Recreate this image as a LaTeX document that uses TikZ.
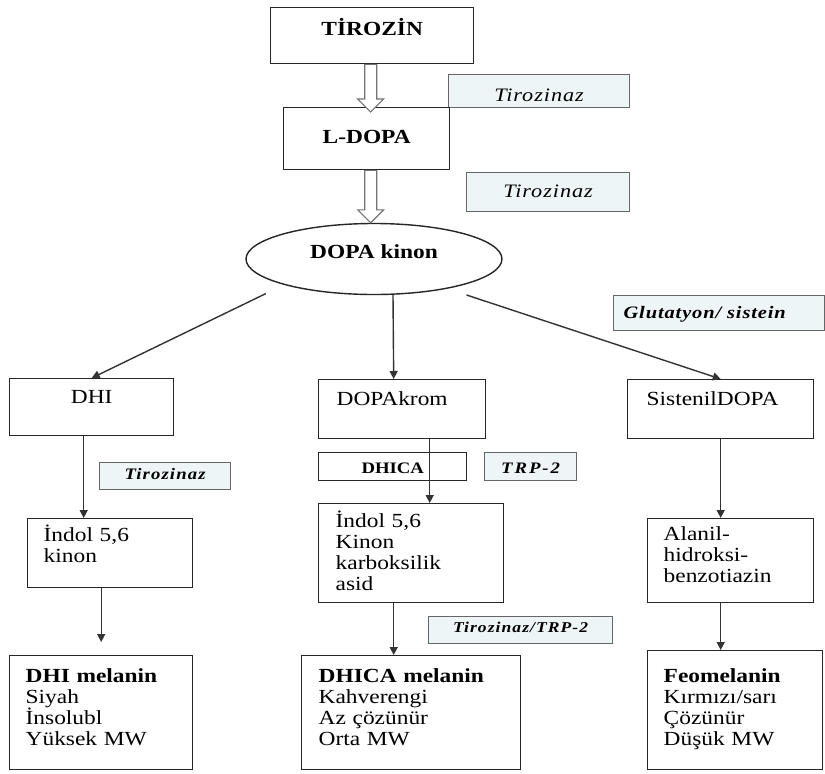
\documentclass[tikz,border=0pt]{standalone}
\usepackage{fontspec}
\setmainfont{Liberation Serif}[FakeStretch=1.17]
\newfontfamily\tagfont{Liberation Serif}[FakeStretch=1.17,LetterSpace=5]
\usetikzlibrary{shapes.geometric}
\usetikzlibrary{arrows.meta}
\usetikzlibrary{calc}
\definecolor{tagfill}{HTML}{EEF5F7}
\newcommand{\bodysize}{\fontsize{20}{21}\selectfont}
\tikzset{
    every node/.style={
        inner sep=0pt,
        anchor=north west},
    box/.style={
        draw=black!85,
        line width=1.4pt,
        align=left,
        font=\bodysize},
    tag/.style={
        draw=black!60,
        fill=tagfill,
        line width=1.1pt,
        align=center,
        font=\tagfont\fontsize{19}{21}\selectfont\itshape},
    boldtag/.style={
        tag,
        font=\tagfont\fontsize{15}{17}\selectfont\bfseries\itshape},
    flow/.style={
        draw=black!80,
        line width=1.4pt,
        -{Triangle[length=8pt,width=8pt]}},
    hollow/.style={
        draw=black!55,
        fill=white,
        line width=1.1pt,
        to path={let \p1=(\tikztostart), \p2=(\tikztotarget) in
            (\x1-6pt,\y1) -- (\x1-6pt,\y2+13pt) -- (\x1-13pt,\y2+13pt)
            -- (\x1,\y2) -- (\x1+13pt,\y2+13pt) -- (\x1+6pt,\y2+13pt)
            -- (\x1+6pt,\y1) -- cycle}}}

\begin{document}
\begin{tikzpicture}[x=1pt,y=-1pt]
    \fill[white] (0,0) rectangle (825,774);
    \useasboundingbox (0,0) rectangle (825,774);

    % ana yol
    \node[box, text width=203pt, align=center, text height=28pt, text depth=28pt] (tir) at (270,7) {\bfseries TİROZİN};
    \node[tag, text width=181pt, text height=27pt, text depth=6pt] (enz1) at (448,74) {Tirozinaz};
    \node[box, text width=166pt, align=center, text height=36pt, text depth=26pt] (ldopa) at (283,107) {\bfseries L-DOPA};
    \node[tag, text width=163pt, text height=25pt, text depth=14pt] (enz2) at (466,172) {Tirozinaz};
    \node[box, ellipse, anchor=center, minimum width=256pt, minimum height=71pt, text height=14pt, text depth=16pt] (kinon) at (374,259) {\bfseries DOPA kinon};
    \node[boldtag, font=\tagfont\fontsize{17.5}{19}\selectfont\bfseries\itshape, align=left, inner xsep=10pt, text width=191pt, text height=23pt, text depth=12pt] (glut) at (613,295) {Glutatyon/ sistein};

    % ara urunler
    \node[box, text width=164pt, align=center, text height=25pt, text depth=32pt] (dhi) at (9,378) {DHI};
    \node[box, inner xsep=18pt, text width=131pt, text height=26pt, text depth=33pt] (dopakrom) at (318,379) {DOPAkrom};
    \node[box, inner xsep=19pt, text width=148pt, text height=26pt, text depth=33pt] (sistenil) at (627,379) {SistenilDOPA};
    \node[box, align=center, fill=white, font=\fontsize{16}{18}\selectfont\bfseries, text width=148pt, text height=21pt, text depth=7pt] (dhica) at (318,452) {DHICA};
    \node[boldtag, font=\tagfont\fontsize{16}{18}\selectfont\addfontfeature{LetterSpace=12}\bfseries\itshape, text width=92pt, text height=21pt, text depth=7pt] (trp) at (484,452) {TRP-2};
    \node[boldtag, font=\tagfont\fontsize{16}{18}\selectfont\addfontfeature{LetterSpace=7}\bfseries\itshape, text width=131pt, text height=17pt, text depth=10pt] (enz3) at (99,462) {Tirozinaz};

    \node[box, inner xsep=16pt, text width=133pt, text height=23pt, text depth=46pt] (indol1) at (27,518) {İndol 5,6\\kinon};
    \node[box, inner xsep=17pt, text width=151pt, text height=24pt, text depth=75pt] (indol2) at (318,503) {İndol 5,6\\Kinon\\karboksilik\\asid};
    \node[box, inner xsep=16pt, text width=134pt, text height=22pt, text depth=62pt] (alanil) at (647,518) {Alanil-\\hidroksi-\\benzotiazin};
    \node[boldtag, font=\tagfont\fontsize{15}{17}\selectfont\addfontfeature{LetterSpace=7}\bfseries\itshape, text width=184pt, text height=16pt, text depth=11pt] (enz4) at (428,616) {Tirozinaz/TRP-2};

    % melaninler
    \node[box, inner xsep=16pt, text width=151pt, text height=27pt, text depth=87pt] (dhimel) at (9,655) {\textbf{DHI melanin}\\Siyah\\İnsolubl\\Yüksek MW};
    \node[box, inner xsep=17pt, text width=185pt, text height=27pt, text depth=87pt] (dhicamel) at (301,655) {\textbf{DHICA melanin}\\Kahverengi\\Az çözünür\\Orta MW};
    \node[box, inner xsep=16pt, text width=143pt, text height=32pt, text depth=87pt] (feo) at (647,650) {\textbf{Feomelanin}\\Kırmızı/sarı\\Çözünür\\Düşük MW};

    % oklar
    \draw[hollow] ([xshift=-1.5pt]tir.south) to ([yshift=-5pt]ldopa.north);
    \draw[hollow] ([xshift=4pt]ldopa.south) to (kinon.north);

    \draw[flow, shorten <=20pt] (kinon.196) -- (dhi.north);
    \draw[flow] ([xshift=19pt]kinon.south) -- ([xshift=-8.5pt]dopakrom.north);
    \draw[flow, shorten <=20pt] (kinon.338) -- (sistenil.north);

    \draw[flow] ([xshift=-8pt]dhi.south) -- ([xshift=-8pt]dhi.south |- indol1.north);
    \draw[flow, shorten >=13pt] (dhimel.north |- indol1.south) -- (dhimel.north);
    \draw[flow] ([xshift=27.5pt]dopakrom.south) -- ([xshift=27.5pt]dopakrom.south |- indol2.north);
    \draw[flow] ([xshift=-17.5pt]dhicamel.north |- indol2.south) -- ([xshift=-17.5pt]dhicamel.north);
    \draw[flow] (sistenil.south) -- (sistenil.south |- alanil.north);
    \draw[flow] (sistenil.south |- alanil.south) -- (sistenil.south |- feo.north);
\end{tikzpicture}
\end{document}
